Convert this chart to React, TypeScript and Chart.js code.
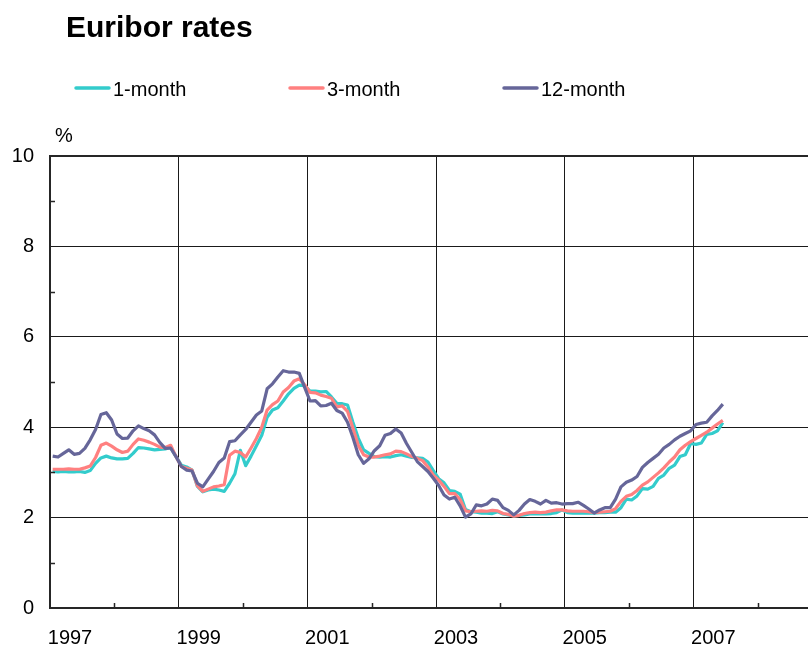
import React, { useEffect, useRef } from "react";
import { Chart, registerables } from "chart.js";

Chart.register(...registerables);

const START_YEAR = 1997;
const seriesNames = ["1-month", "3-month", "12-month"];
const seriesColors = ["#33CCCC", "#FF8080", "#666699"];

// Monthly averages, Jan 1997 - Jun 2007 (%)
const oneMonth = [
  3.02, 3.01, 3.02, 3.01, 3.01, 3.02, 3.0, 3.04, 3.2, 3.32, 3.36, 3.32,
  3.3, 3.3, 3.31, 3.42, 3.55, 3.54, 3.52, 3.5, 3.51, 3.52, 3.55, 3.35,
  3.16, 3.12, 3.05, 2.69, 2.57, 2.61, 2.63, 2.61, 2.58, 2.76, 2.97, 3.49,
  3.15, 3.36, 3.59, 3.82, 4.22, 4.38, 4.43, 4.58, 4.74, 4.86, 4.93, 4.92,
  4.8, 4.8, 4.78, 4.79, 4.67, 4.53, 4.52, 4.49, 4.11, 3.76, 3.5, 3.42,
  3.35, 3.34, 3.35, 3.34, 3.37, 3.39, 3.36, 3.33, 3.32, 3.31, 3.23, 3.04,
  2.86, 2.77, 2.6, 2.58, 2.52, 2.18, 2.13, 2.12, 2.1, 2.1, 2.09, 2.13,
  2.08, 2.06, 2.04, 2.05, 2.06, 2.08, 2.08, 2.08, 2.08, 2.09, 2.11, 2.17,
  2.11, 2.1, 2.1, 2.1, 2.1, 2.1, 2.11, 2.11, 2.12, 2.12, 2.22, 2.41,
  2.39, 2.48, 2.64, 2.63, 2.69, 2.87, 2.94, 3.09, 3.16, 3.35, 3.39, 3.64,
  3.62, 3.65, 3.84, 3.86, 3.92, 4.1,
];
const threeMonth = [
  3.07, 3.07, 3.07, 3.08, 3.07, 3.07, 3.1, 3.14, 3.33, 3.6, 3.65, 3.58,
  3.5, 3.44, 3.47, 3.62, 3.74, 3.71, 3.67, 3.62, 3.56, 3.55, 3.6, 3.35,
  3.13, 3.09, 3.05, 2.7, 2.58, 2.63, 2.68, 2.7, 2.73, 3.38, 3.47, 3.44,
  3.34, 3.54, 3.75, 4.0, 4.38, 4.5, 4.58, 4.78, 4.88, 5.02, 5.07, 4.94,
  4.77, 4.76, 4.71, 4.68, 4.64, 4.45, 4.47, 4.35, 3.98, 3.6, 3.39, 3.34,
  3.34, 3.36, 3.39, 3.41, 3.47, 3.46, 3.41, 3.35, 3.31, 3.26, 3.12, 2.94,
  2.83, 2.69, 2.53, 2.53, 2.4, 2.15, 2.13, 2.14, 2.15, 2.14, 2.16, 2.15,
  2.09, 2.07, 2.03, 2.05, 2.09, 2.11, 2.12, 2.11, 2.12, 2.15, 2.17, 2.17,
  2.15, 2.14, 2.14, 2.14, 2.13, 2.11, 2.12, 2.13, 2.14, 2.2, 2.36, 2.47,
  2.51, 2.6, 2.72, 2.79, 2.89, 2.99, 3.1, 3.23, 3.34, 3.5, 3.6, 3.68,
  3.75, 3.82, 3.89, 3.98, 4.07, 4.15,
];
const twelveMonth = [
  3.36, 3.34, 3.42, 3.5, 3.4, 3.42, 3.53, 3.72, 3.95, 4.28, 4.32, 4.16,
  3.85, 3.75, 3.76, 3.92, 4.03, 3.97, 3.92, 3.83, 3.66, 3.53, 3.54, 3.35,
  3.13, 3.05, 3.03, 2.76, 2.68, 2.85, 3.02, 3.22, 3.32, 3.68, 3.7, 3.83,
  3.95, 4.11, 4.27, 4.36, 4.85, 4.96, 5.11, 5.25, 5.22, 5.22, 5.19, 4.88,
  4.58, 4.59, 4.47, 4.48, 4.53, 4.37, 4.31, 4.11, 3.77, 3.39, 3.2, 3.3,
  3.48, 3.59, 3.82, 3.86, 3.96, 3.87, 3.64, 3.44, 3.24, 3.13, 3.02, 2.87,
  2.71, 2.5, 2.41, 2.45, 2.26, 2.01, 2.08, 2.28, 2.26, 2.3, 2.41, 2.38,
  2.22, 2.16, 2.06, 2.16, 2.3, 2.4, 2.36, 2.3, 2.38, 2.32, 2.33, 2.3,
  2.31, 2.31, 2.34, 2.27, 2.19, 2.1, 2.17, 2.22, 2.22, 2.41, 2.68, 2.78,
  2.83, 2.91, 3.11, 3.22, 3.31, 3.4, 3.54, 3.62, 3.72, 3.8, 3.86, 3.92,
  4.06, 4.09, 4.11, 4.25, 4.37, 4.51,
];

const xLabelYears = [1997, 1999, 2001, 2003, 2005, 2007];
const xMinorYears = [1998, 2000, 2002, 2004, 2006, 2008];
const yLabelValues = [0, 2, 4, 6, 8, 10];
const yMinorValues = [1, 3, 5, 7, 9];
const X_MIN = 1997;
const X_MAX = 2009;
const Y_MIN = 0;
const Y_MAX = 10;

const FONT = '"Liberation Sans", Arial, Helvetica, sans-serif';
const AXIS = "#262626";
const GRID = "#1a1a1a";

const toPoints = (vals: number[]) =>
  vals.map((v, i) => ({ x: START_YEAR + (i + 0.5) / 12, y: v }));

const decorPlugin = {
  id: "decor",
  afterDraw(chart: any) {
    const { ctx, chartArea, scales } = chart;
    const x = scales.x;
    const y = scales.y;
    ctx.save();
    // minor ticks
    ctx.strokeStyle = AXIS;
    ctx.lineWidth = 1.5;
    ctx.beginPath();
    xMinorYears.forEach((yr) => {
      const px = Math.round(x.getPixelForValue(yr)) + 0.5;
      ctx.moveTo(px, chartArea.bottom);
      ctx.lineTo(px, chartArea.bottom - 5);
    });
    yMinorValues.forEach((v) => {
      const py = Math.round(y.getPixelForValue(v)) + 0.5;
      ctx.moveTo(chartArea.left, py);
      ctx.lineTo(chartArea.left + 5, py);
    });
    ctx.stroke();

    // title
    ctx.fillStyle = "#000";
    ctx.textAlign = "left";
    ctx.textBaseline = "alphabetic";
    ctx.font = `bold 30px ${FONT}`;
    ctx.fillText("Euribor rates", 66, 37);

    // legend
    const legendX = [76, 290, 504];
    ctx.font = `20px ${FONT}`;
    chart.data.datasets.forEach((ds: any, i: number) => {
      const lx = legendX[i];
      ctx.strokeStyle = ds.borderColor;
      ctx.lineWidth = 3.5;
      ctx.lineCap = "round";
      ctx.beginPath();
      ctx.moveTo(lx, 88);
      ctx.lineTo(lx + 33, 88);
      ctx.stroke();
      ctx.fillStyle = "#000";
      ctx.fillText(ds.label, lx + 37, 96);
    });

    // unit
    ctx.font = `20px ${FONT}`;
    ctx.fillText("%", 55, 142);
    ctx.restore();
  },
};

export default function App() {
  const ref = useRef<HTMLCanvasElement | null>(null);

  useEffect(() => {
    if (!ref.current) return;
    const allSeries = [oneMonth, threeMonth, twelveMonth];
    const chart = new Chart(ref.current, {
      type: "line",
      data: {
        datasets: allSeries.map((vals, i) => ({
          label: seriesNames[i],
          data: toPoints(vals),
          borderColor: seriesColors[i],
          backgroundColor: seriesColors[i],
          borderWidth: 3.2,
          pointRadius: 0,
          tension: 0,
          fill: false,
          borderJoinStyle: "round" as const,
          order: 3 - i,
        })),
      },
      options: {
        animation: false,
        responsive: false,
        devicePixelRatio: 1,
        layout: { padding: { top: 156, left: 0, right: 0, bottom: 0 } },
        plugins: {
          legend: { display: false },
          title: { display: false },
          tooltip: { enabled: false },
        },
        scales: {
          x: {
            type: "linear",
            min: X_MIN,
            max: X_MAX,
            afterFit: (s: any) => {
              s.height = 42;
              s.paddingLeft = 0;
              s.paddingRight = 0;
            },
            ticks: {
              stepSize: 1,
              autoSkip: false,
              maxRotation: 0,
              minRotation: 0,
              labelOffset: 20,
              padding: 18,
              color: "#000",
              font: { family: FONT, size: 20 },
              callback: (v: any) => (xLabelYears.includes(Number(v)) ? String(v) : ""),
            },
            grid: {
              drawTicks: false,
              lineWidth: 1,
              color: (c: any) =>
                c.tick && xLabelYears.includes(c.tick.value) ? GRID : "rgba(0,0,0,0)",
            },
            border: { display: true, color: AXIS, width: 2 },
          },
          y: {
            type: "linear",
            min: Y_MIN,
            max: Y_MAX,
            afterFit: (s: any) => {
              s.width = 50;
              s.paddingTop = 0;
              s.paddingBottom = 0;
            },
            ticks: {
              stepSize: 1,
              padding: 16,
              color: "#000",
              font: { family: FONT, size: 20 },
              callback: (v: any) => (yLabelValues.includes(Number(v)) ? String(v) : ""),
            },
            grid: {
              drawTicks: false,
              color: (c: any) =>
                c.tick && yLabelValues.includes(c.tick.value) ? (c.tick.value === Y_MAX ? AXIS : GRID) : "rgba(0,0,0,0)",
              lineWidth: (c: any) => (c.tick && c.tick.value === Y_MAX ? 2 : 1),
            },
            border: { display: true, color: AXIS, width: 2 },
          },
        },
      },
      plugins: [decorPlugin],
    });
    return () => chart.destroy();
  }, []);

  return (
    <div
      style={{
        position: "absolute",
        left: 0,
        top: 0,
        width: 808,
        height: 650,
        overflow: "hidden",
        background: "#fff",
      }}
    >
      <canvas ref={ref} width={822} height={650} style={{ display: "block" }} />
    </div>
  );
}
